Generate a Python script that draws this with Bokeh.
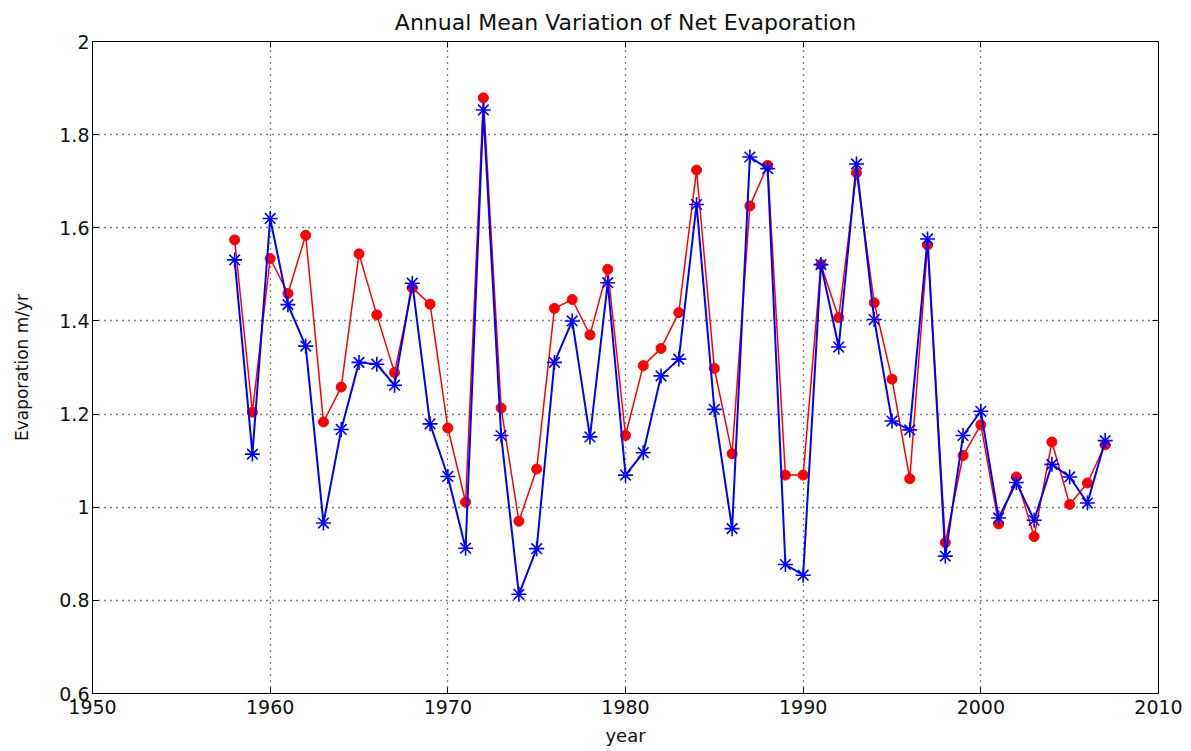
from bokeh.plotting import figure
from bokeh.models import Range1d, FixedTicker, LinearAxis, CustomJSTickFormatter
from bokeh.embed import file_html
from bokeh.resources import INLINE

# Annual mean net evaporation (m/yr), two estimates
years = list(range(1958, 2008))
series_red = [1.574, 1.204, 1.534, 1.459, 1.584, 1.183, 1.258, 1.544, 1.413, 1.289,
              1.471, 1.436, 1.170, 1.011, 1.879, 1.213, 0.970, 1.082, 1.427, 1.446,
              1.370, 1.511, 1.154, 1.304, 1.341, 1.418, 1.724, 1.298, 1.115, 1.647,
              1.734, 1.069, 1.069, 1.521, 1.407, 1.718, 1.439, 1.275, 1.061, 1.563,
              0.924, 1.111, 1.177, 0.964, 1.065, 0.937, 1.140, 1.006, 1.052, 1.134]
series_blue = [1.531, 1.114, 1.620, 1.435, 1.346, 0.966, 1.167, 1.311, 1.307, 1.262,
               1.481, 1.179, 1.066, 0.912, 1.853, 1.154, 0.813, 0.911, 1.311, 1.400,
               1.151, 1.482, 1.069, 1.117, 1.282, 1.318, 1.650, 1.210, 0.954, 1.752,
               1.727, 0.877, 0.854, 1.521, 1.344, 1.737, 1.403, 1.185, 1.166, 1.576,
               0.895, 1.154, 1.206, 0.977, 1.053, 0.972, 1.092, 1.065, 1.009, 1.143]

x_ticks = [1950, 1960, 1970, 1980, 1990, 2000, 2010]
y_ticks = [0.6, 0.8, 1.0, 1.2, 1.4, 1.6, 1.8, 2.0]

FONT = "DejaVu Sans"

p = figure(width=1191, height=751, output_backend="svg", toolbar_location=None,
           x_range=Range1d(1950, 2010), y_range=Range1d(0.6, 2.0),
           title="Annual Mean Variation of Net Evaporation",
           min_border_left=92, min_border_right=33, min_border_top=40, min_border_bottom=58)

p.title.align = "center"
p.title.text_font = FONT
p.title.text_font_size = "22px"
p.title.text_font_style = "normal"
p.title.text_color = "#111111"
p.title.standoff = 14

p.background_fill_color = "white"
p.border_fill_color = "white"
p.outline_line_color = "black"
p.outline_line_width = 1

tick_fmt = CustomJSTickFormatter(code="return (Math.round(tick*10)/10).toString();")
blank_fmt = CustomJSTickFormatter(code="return '';")

for ax in (p.xaxis[0], p.yaxis[0]):
    ax.major_label_text_font = FONT
    ax.major_label_text_font_size = "19px"
    ax.major_label_text_color = "#111111"
    ax.axis_label_text_font = FONT
    ax.axis_label_text_font_style = "normal"
    ax.axis_label_text_color = "#111111"
    ax.axis_line_color = "black"
    ax.major_tick_line_color = "black"
    ax.major_tick_in = 6
    ax.major_tick_out = 0
    ax.minor_tick_line_color = None

p.xaxis[0].ticker = FixedTicker(ticks=x_ticks)
p.yaxis[0].ticker = FixedTicker(ticks=y_ticks)
p.yaxis[0].formatter = tick_fmt
p.xaxis[0].axis_label = "year"
p.xaxis[0].axis_label_text_font_size = "18px"
p.xaxis[0].axis_label_standoff = 8
p.xaxis[0].major_label_standoff = 6
p.yaxis[0].axis_label = "Evaporation m/yr"
p.yaxis[0].axis_label_text_font_size = "17px"
p.yaxis[0].axis_label_standoff = 24
p.yaxis[0].major_label_standoff = 3

# box ticks on top and right
top_ax = LinearAxis(ticker=FixedTicker(ticks=x_ticks), formatter=blank_fmt,
                    major_tick_in=6, major_tick_out=0, minor_tick_line_color=None,
                    major_label_standoff=0, axis_line_color="black")
right_ax = LinearAxis(ticker=FixedTicker(ticks=y_ticks), formatter=blank_fmt,
                      major_tick_in=6, major_tick_out=0, minor_tick_line_color=None,
                      major_label_standoff=0, axis_line_color="black")
p.add_layout(top_ax, "above")
p.add_layout(right_ax, "right")

for g in (p.xgrid[0], p.ygrid[0]):
    g.grid_line_color = "black"
    g.grid_line_dash = "1 5"
    g.grid_line_width = 1.3
p.xgrid[0].ticker = FixedTicker(ticks=x_ticks)
p.ygrid[0].ticker = FixedTicker(ticks=y_ticks)

# red series: filled dots
p.line(years, series_red, line_color="#ff0000", line_width=1.5)
p.scatter(years, series_red, marker="circle", size=10, fill_color="#ff0000",
          line_color="#ff0000")

# blue series: asterisks, drawn on top
p.line(years, series_blue, line_color="#0000ff", line_width=2)
p.scatter(years, series_blue, marker="asterisk", size=15, line_color="#0000ff",
          line_width=1.6)

open("out.html", "w").write(file_html(p, INLINE))
